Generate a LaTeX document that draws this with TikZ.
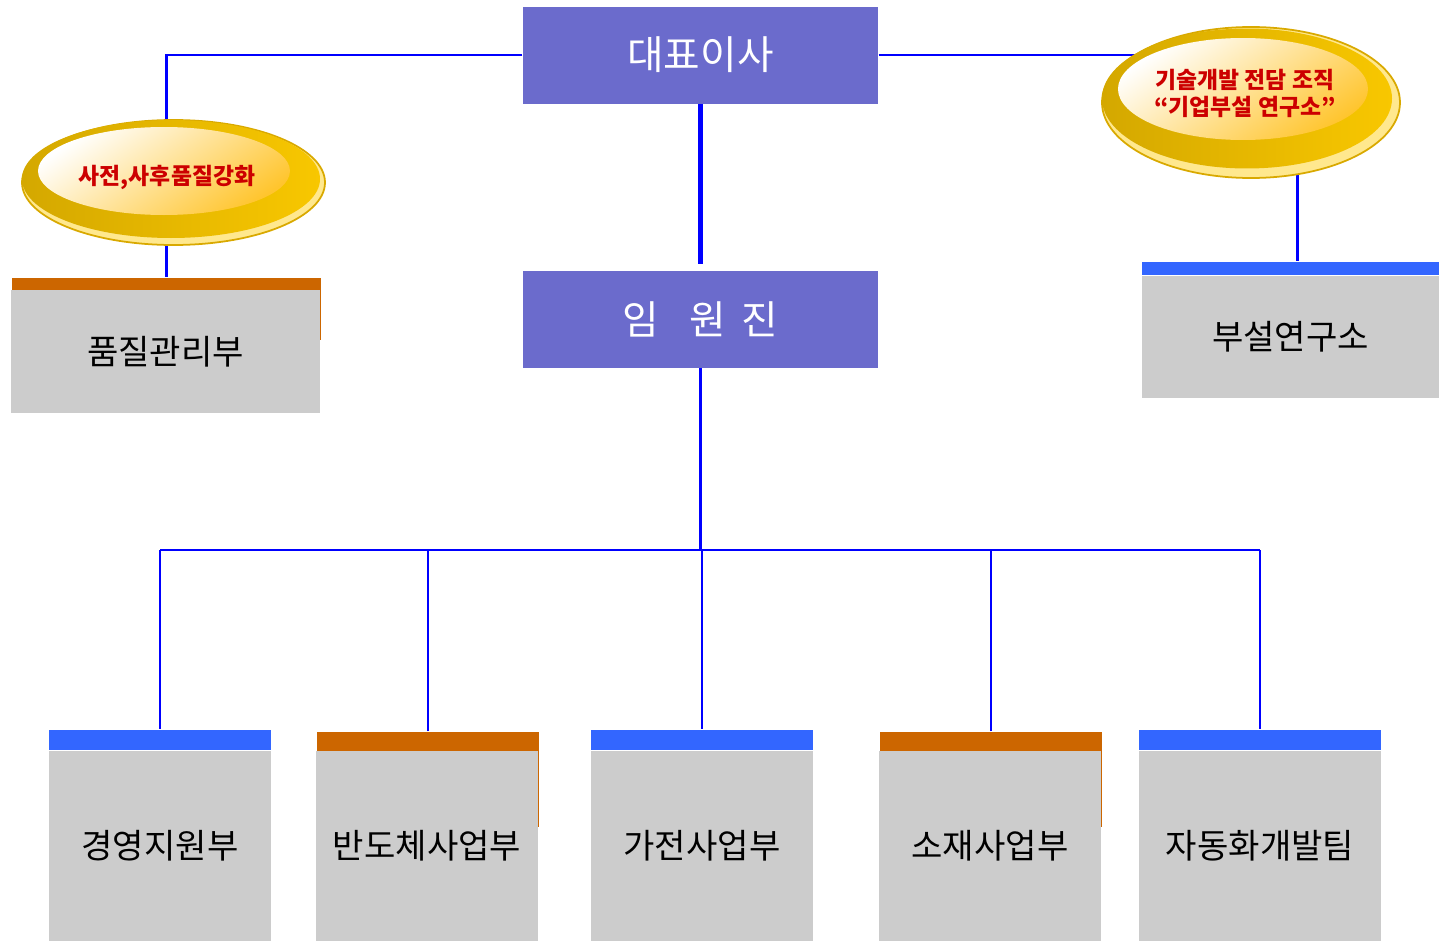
\documentclass[tikz,border=0pt]{standalone}
\usepackage{fontspec}
\setmainfont{Noto Sans CJK KR}
\usetikzlibrary{positioning,shapes.geometric,backgrounds}

\definecolor{boxpurple}{HTML}{6B6BCC}
\definecolor{deptgray}{HTML}{CCCCCC}
\definecolor{barblue}{HTML}{3366FF}
\definecolor{barorange}{HTML}{CC6600}
\definecolor{linkblue}{HTML}{0000FF}
\definecolor{goldrim}{HTML}{FFE88E}
\definecolor{goldedge}{HTML}{D9A900}
\definecolor{golddark}{HTML}{D4A800}
\definecolor{goldlight}{HTML}{F8C700}
\definecolor{goldglow}{HTML}{FFC52E}
\definecolor{notered}{HTML}{CC0000}

\begin{document}
\begin{tikzpicture}[
  head/.style={rectangle, fill=boxpurple, text=white, minimum width=3.55cm, minimum height=0.97cm, font=\fontsize{11.3}{13}\selectfont},
  dept/.style={rectangle, fill=deptgray, inner sep=0, font=\fontsize{9.7}{11}\selectfont},
  bluebar/.style={rectangle, fill=barblue, inner sep=0, minimum height=0.2cm},
  orangebar/.style={rectangle, fill=barorange, inner sep=0, anchor=north west},
  badge/.style={ellipse, inner sep=0, text=notered, align=center, font=\bfseries\fontsize{6.5}{7.7}\selectfont},
  link/.style={draw=linkblue, line width=0.65pt},
  rimfill/.style={fill=goldrim, draw=goldedge, line width=0.5pt},
  bodyfill/.style={left color=golddark, right color=goldlight},
  glowfill/.style={top color=white, bottom color=goldglow, shading angle=35}
]
\useasboundingbox (0,0) rectangle (14.39,-9.41);

% top of the chart
\node[head] (ceo) at (7.005,-0.55) {대표이사};
\node[head] (exec) at (7.005,-3.19) {임\hspace{0.75em}원\hspace{0.4em}진};

% side units
\node[dept, minimum width=3.09cm, minimum height=1.23cm] (qadept) at (1.655,-3.515) {품질관리부};
\node[dept, minimum width=2.97cm, minimum height=1.22cm] (lab) at (12.905,-3.37) {부설연구소};
\node[bluebar, minimum width=2.97cm, minimum height=0.13cm, above=0pt of lab] (labbar) {};

\node[badge, minimum width=3.03cm, minimum height=1.25cm] (qa) at (1.67,-1.77) {사전,사후품질강화};
\node[badge, minimum width=2.98cm, minimum height=1.51cm] (rnd) at (12.45,-0.935) {기술개발 전담 조직\\“기업부설 연구소”};

% departments
\node[dept, minimum width=2.22cm, minimum height=1.90cm] (d1) at (1.60,-8.46) {경영지원부};
\node[dept, minimum width=2.22cm, minimum height=1.90cm] (d2) at (4.27,-8.46) {반도체사업부};
\node[dept, minimum width=2.22cm, minimum height=1.90cm] (d3) at (7.02,-8.46) {가전사업부};
\node[dept, minimum width=2.22cm, minimum height=1.90cm] (d4) at (9.90,-8.46) {소재사업부};
\node[dept, minimum width=2.42cm, minimum height=1.90cm] (d5) at (12.60,-8.46) {자동화개발팀};

\node[bluebar, minimum width=2.22cm, above=0pt of d1] (d1bar) {};
\node[bluebar, minimum width=2.22cm, above=0pt of d3] (d3bar) {};
\node[bluebar, minimum width=2.42cm, above=0pt of d5] (d5bar) {};

\coordinate (bus) at (0,-5.50);

\begin{pgfonlayer}{background}
  % orange tabs sit behind their boxes
  \node[orangebar, minimum width=2.22cm, minimum height=0.95cm] (d2bar) at ([shift={(0.01,0.19)}]d2.north west) {};
  \node[orangebar, minimum width=2.22cm, minimum height=0.95cm] (d4bar) at ([shift={(0.01,0.19)}]d4.north west) {};
  \node[orangebar, minimum width=3.09cm, minimum height=0.62cm] (qabar) at ([shift={(0.01,0.12)}]qadept.north west) {};

  % connectors
  \draw[linkblue, line width=1.7pt, shorten >=0.06cm] (ceo.south) -- (exec.north);
  \draw[link] (ceo.west) -| (qabar.north);
  \draw[link] (ceo.east) -- (ceo.east -| rnd.center);
  \draw[link] ([xshift=0.07cm]labbar.north) -- ([xshift=0.07cm]labbar.north |- rnd.center);
  \draw[link] (exec.south) -- (exec.south |- bus);
  \draw[link] (d1bar.north |- bus) -- (d5bar.north |- bus);
  \foreach \d in {d1bar,d2bar,d3bar,d4bar,d5bar}
    \draw[link] (\d.north) -- (\d.north |- bus);

  % gold badges
  \draw[rimfill] ([shift={(0.065,-0.055)}]qa.center) ellipse (1.515 and 0.625);
  \shade[bodyfill] ([shift={(0.04,-0.02)}]qa.center) ellipse (1.49 and 0.59);
  \shade[glowfill] ([shift={(-0.03,0.06)}]qa.center) ellipse (1.26 and 0.44);

  \draw[rimfill] ([shift={(0.06,-0.09)}]rnd.center) ellipse (1.49 and 0.755);
  \shade[bodyfill] ([shift={(0.02,-0.05)}]rnd.center) ellipse (1.45 and 0.70);
  \shade[glowfill] ([shift={(-0.02,0.045)}]rnd.center) ellipse (1.25 and 0.51);
\end{pgfonlayer}

\end{tikzpicture}
\end{document}
